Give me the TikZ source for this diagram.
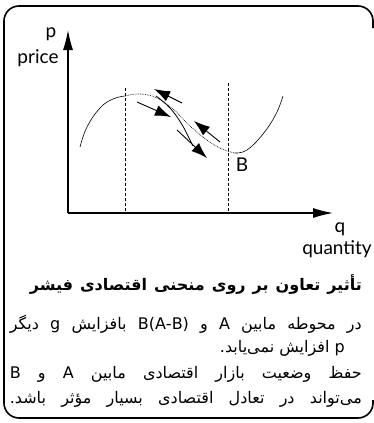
\documentclass[tikz,border=0pt]{standalone}
\usepackage{fontspec}
\setmainfont{Lato}
\newfontfamily\fafont[Script=Arabic]{DejaVu Sans}
\TeXXeTstate=1
\usetikzlibrary{arrows.meta}

\begin{document}
\begin{tikzpicture}[x=1pt,y=-1pt,
    axis/.style={line width=1.1pt,-{Latex[length=20pt,width=10pt]}},
    guide/.style={line width=0.8pt,dash pattern=on 3pt off 2pt},
    shift arrow/.style={line width=0.9pt,-{Latex[length=16pt,width=11pt]}},
    lbl/.style={inner sep=0pt,font=\fontsize{19}{20}\selectfont},
    fatext/.style={inner sep=0pt,anchor=east,font=\fafont\fontsize{16}{18}\selectfont}]
  \useasboundingbox (0,0) rectangle (374,423);
  % frame, open on the right
  \draw[line width=1.6pt,rounded corners=15pt]
    (373,28) -- (373,6) -- (4,6) -- (4,418) -- (373,418) -- (373,400);

  % axes
  \coordinate (o) at (68,213);
  \coordinate (ytop) at (68,30);
  \coordinate (xend) at (333,213);
  \draw[axis] (o) -- (ytop);
  \draw[axis] (o) -- (xend);
  \node[lbl] (p) at (51,34) {p};
  \node[lbl] (price) at (38,58) {price};
  \node[lbl] (q) at (340,229) {q};
  \node[lbl] (quantity) at (337,249) {quantity};

  % dashed guides at the two points
  \coordinate (ga) at (125,88);
  \coordinate (gb) at (228,83);
  \draw[guide] (ga) -- (ga |- o);
  \draw[guide] (gb) -- (gb |- o);

  % Fisher curve
  \draw[line width=0.6pt] plot[smooth,tension=0.7] coordinates
    {(80,147) (87,127) (100,108) (113,99) (125,96)};
  \draw[line width=0.7pt,densely dotted] plot[smooth,tension=0.7] coordinates
    {(125,96) (140,94) (157,98) (173,109) (190,126) (207,140) (222,149) (235,153)};
  \draw[line width=0.6pt] plot[smooth,tension=0.7] coordinates
    {(235,153) (247,150) (263,134) (276,114) (283,96)};
  \draw[line width=0.8pt] plot[smooth,tension=0.7] coordinates
    {(156,96) (170,108) (181,123) (188,136) (193,146)};
  \node[lbl] (B) at (242,165) {B};

  % shifts along the curve
  \coordinate (a1) at (182,103); \coordinate (a1e) at (154,89);
  \coordinate (a2) at (137,102); \coordinate (a2e) at (171,117);
  \coordinate (a3) at (220,142); \coordinate (a3e) at (194,121);
  \coordinate (a4) at (177,130); \coordinate (a4e) at (207,158);
  \draw[shift arrow] (a1) -- (a1e);
  \draw[shift arrow] (a2) -- (a2e);
  \draw[shift arrow] (a3) -- (a3e);
  \draw[shift arrow] (a4) -- (a4e);

  % caption
  \node[fatext,font=\fafont\bfseries\fontsize{16}{18}\selectfont] (title) at (362,285)
    {\hbox to 332pt{\beginR تأثیر تعاون بر روی منحنی اقتصادی فیشر\endR}};
  \node[fatext] (l1) at (362,324)
    {\hbox to 352pt{\beginR در محوطه مابین A و B(A-B) بافزایش g دیگر\endR}};
  \node[fatext] (l2) at (345,348)
    {\beginR p افزایش نمی‌یابد.\endR};
  \node[fatext] (l3) at (362,374)
    {\hbox to 352pt{\beginR حفظ وضعیت بازار اقتصادی مابین A و B\endR}};
  \node[fatext] (l4) at (362,399)
    {\hbox to 352pt{\beginR می‌تواند در تعادل اقتصادی بسیار مؤثر باشد.\endR}};
\end{tikzpicture}
\end{document}
